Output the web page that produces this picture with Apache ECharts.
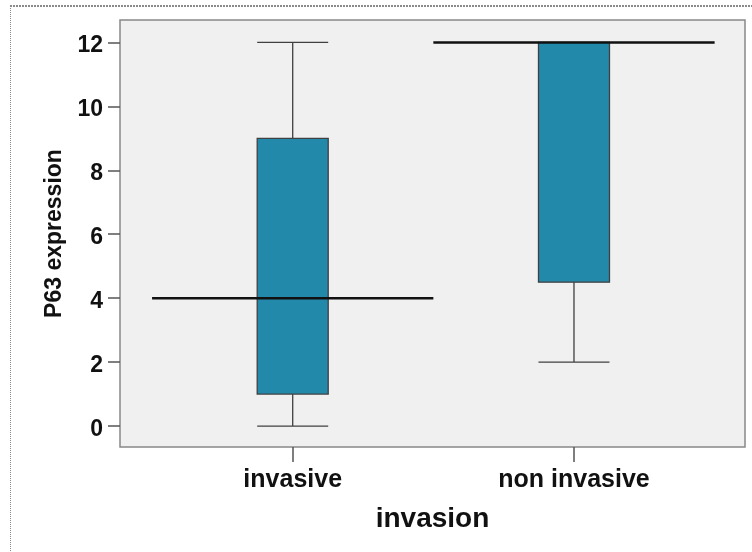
<!DOCTYPE html>
<html>
<head>
<meta charset="utf-8">
<script src="https://cdn.jsdelivr.net/npm/echarts@6/dist/echarts.min.js"></script>
<style>html,body{margin:0;padding:0;background:#fff}#c{width:752px;height:552px}</style>
</head>
<body>
<div id="c"></div>
<script>
var categories = ['invasive', 'non invasive'];
var mins    = [0, 2];
var q1s     = [1, 4.5];
var medians = [4, 12];
var q3s     = [9, 12];
var maxs    = [12, 12];
var yTicks  = [0, 2, 4, 6, 8, 10, 12];

var boxData = categories.map(function (c, i) {
  return [i, mins[i], q1s[i], medians[i], q3s[i], maxs[i]];
});
var medianData = categories.map(function (c, i) { return [i, medians[i]]; });
var xPositions = categories.map(function (c, i) { return i; });

var font = '"Liberation Sans", Arial, sans-serif';
var chart = echarts.init(document.getElementById('c'), null, {renderer: 'canvas'});
chart.setOption({
  animation: false,
  backgroundColor: '#ffffff',
  graphic: [
    {type: 'line', shape: {x1: 10, y1: 6, x2: 752, y2: 6}, style: {stroke: '#8a8a8a', lineWidth: 2, lineDash: [2, 1]}, silent: true},
    {type: 'line', shape: {x1: 10.5, y1: 6, x2: 10.5, y2: 552}, style: {stroke: '#8a8a8a', lineWidth: 1, lineDash: [1, 1]}, silent: true}
  ],
  grid: {
    left: 120, right: 7, top: 20, bottom: 105,
    show: true, backgroundColor: '#f0f0f0', borderColor: '#888888', borderWidth: 1.5
  },
  xAxis: {
    type: 'value',
    min: -0.614, max: 1.608,
    name: 'invasion', nameLocation: 'middle', nameGap: 58,
    nameTextStyle: {fontFamily: font, fontWeight: 'bold', fontSize: 28, color: '#111'},
    axisLine: {show: false, onZero: false},
    splitLine: {show: false},
    axisTick: {show: true, length: 15, customValues: xPositions, lineStyle: {color: '#555', width: 1.5}},
    axisLabel: {
      customValues: xPositions, margin: 21,
      fontFamily: font, fontWeight: 'bold', fontSize: 25, color: '#111',
      formatter: function (v) { return categories[Math.round(v)]; }
    }
  },
  yAxis: {
    type: 'value',
    min: -0.656, max: 12.70,
    name: 'P63 expression', nameLocation: 'middle', nameGap: 49,
    nameTextStyle: {fontFamily: font, fontWeight: 'bold', fontSize: 23, color: '#111'},
    axisLine: {show: false, onZero: false},
    splitLine: {show: false},
    axisTick: {show: true, length: 12, customValues: yTicks, lineStyle: {color: '#555', width: 1.5}},
    axisLabel: {
      customValues: yTicks, margin: 17,
      formatter: function (v) { return '{t|' + v + '}'; },
      rich: {t: {fontFamily: font, fontWeight: 'bold', fontSize: 23, color: '#111', padding: [7, 0, 0, 0]}}
    }
  },
  series: [
    {
      type: 'boxplot',
      data: boxData,
      boxWidth: [71, 71],
      itemStyle: {color: '#2389aa', borderColor: '#404040', borderWidth: 1.3},
      z: 2
    },
    {
      type: 'custom',
      data: medianData,
      z: 3,
      renderItem: function (params, api) {
        var x = api.value(0), m = api.value(1);
        var p1 = api.coord([x - 0.5, m]);
        var p2 = api.coord([x + 0.5, m]);
        return {type: 'line', shape: {x1: p1[0], y1: p1[1], x2: p2[0], y2: p2[1]},
                style: {stroke: '#111', lineWidth: 2.5}};
      }
    }
  ]
});
</script>
</body>
</html>
